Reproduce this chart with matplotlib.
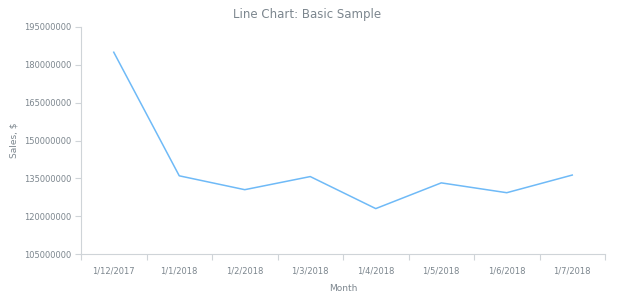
import matplotlib
matplotlib.use('Agg')
import matplotlib.pyplot as plt

months = ['1/12/2017', '1/1/2018', '1/2/2018', '1/3/2018',
          '1/4/2018', '1/5/2018', '1/6/2018', '1/7/2018']
sales = [185000000, 136000000, 130500000, 135700000,
         123000000, 133200000, 129300000, 136300000]

y_ticks = [105000000, 120000000, 135000000, 150000000,
           165000000, 180000000, 195000000]

text_color = '#7c868e'
axis_color = '#cfd4d8'

fig = plt.figure(figsize=(6.2, 3.0), dpi=100)
ax = fig.add_axes([81 / 620, 46 / 300, 524 / 620, 227 / 300])

x = list(range(len(months)))
ax.plot(x, sales, color='#6fbaf7', linewidth=1.1)

ax.set_xlim(-0.5, len(months) - 0.5)
ax.set_ylim(y_ticks[0], y_ticks[-1])
ax.set_yticks(y_ticks)
ax.set_yticklabels([str(v) for v in y_ticks])
ax.set_xticks(x)
ax.set_xticklabels(months)
ax.set_xticks([i - 0.5 for i in range(len(months) + 1)], minor=True)

ax.tick_params(axis='x', which='major', length=0, pad=9, labelsize=6, colors=text_color)
ax.tick_params(axis='x', which='minor', length=4, width=0.8, color=axis_color)
ax.tick_params(axis='y', which='major', length=4, width=0.8, color=axis_color,
               labelsize=6, labelcolor=text_color, pad=3)

for side in ['top', 'right']:
    ax.spines[side].set_visible(False)
for side in ['left', 'bottom']:
    ax.spines[side].set_color(axis_color)
    ax.spines[side].set_linewidth(0.8)

ax.set_xlabel('Month', fontsize=6.5, color=text_color, labelpad=6)
ax.set_ylabel('Sales, $', fontsize=6.5, color=text_color, labelpad=4)
fig.text(0.495, 0.953, 'Line Chart: Basic Sample', ha='center', va='center',
         fontsize=8.5, color=text_color)

fig.savefig('out.png', dpi=100, facecolor='white')
